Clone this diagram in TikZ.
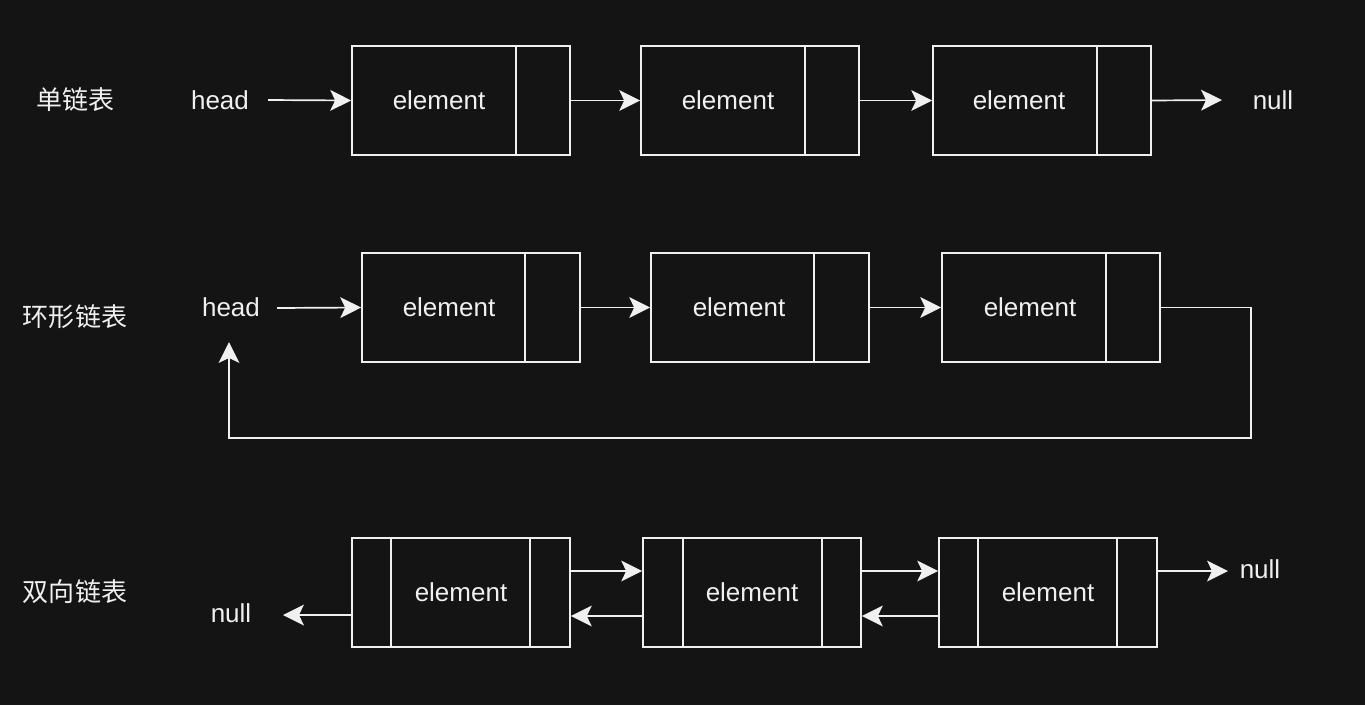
\documentclass[tikz,border=0pt]{standalone}
\usepackage{fontspec}
\setmainfont{Liberation Sans}
\newfontfamily\cjk{Noto Sans CJK SC}
\usetikzlibrary{arrows.meta}
\definecolor{bg}{HTML}{141414}
\definecolor{fg}{HTML}{F0F0F0}
\begin{document}
\begin{tikzpicture}[x=1pt,y=-1pt,
  box/.style={draw=fg,line width=1.7pt,rectangle,minimum width=218pt,minimum height=109pt,inner sep=0pt},
  lbl/.style={text=fg,font=\fontsize{26}{30}\selectfont,inner sep=0pt},
  cn/.style={text=fg,font=\cjk\fontsize{26}{30}\selectfont,inner sep=0pt},
  conn/.style={draw=fg,line width=1.7pt,-{Stealth[length=21pt,width=21pt,inset=5pt,line width=0pt]}},
  plain/.style={draw=fg,line width=1.7pt}]
\fill[bg] (0,0) rectangle (1365,705);
\useasboundingbox (0,0) rectangle (1365,705);

% row labels
\node[cn] (t1) at (75,100) {单链表};
\node[cn] (t2) at (75,317) {环形链表};
\node[cn] (t3) at (75,592) {双向链表};

% ---------- row 1 ----------
\node[lbl] (h1) at (220,100) {head};
\node[box] (a1) at (461,100.5) {};
\node[box] (a2) at (750,100.5) {};
\node[box] (a3) at (1042,100.5) {};
\foreach \d in {516,805,1097}{
  \draw[plain] (\d,46) -- (\d,155);
}
\node[lbl] at (439,100) {element};
\node[lbl] at (728,100) {element};
\node[lbl] at (1019,100) {element};
\node[lbl] (n1) at (1273,100) {null};
\coordinate (h1e) at (268,100);
\coordinate (n1w) at (1222,100);
\draw[conn] (h1e) -- (a1.west);
\draw[conn] (a1.east) -- (a2.west);
\draw[conn] (a2.east) -- (a3.west);
\draw[conn] (a3.east) -- (n1w);

% ---------- row 2 ----------
\node[lbl] (h2) at (231,307) {head};
\node[box] (b1) at (471,307.5) {};
\node[box] (b2) at (760,307.5) {};
\node[box] (b3) at (1051,307.5) {};
\foreach \d in {525,814,1106}{
  \draw[plain] (\d,253) -- (\d,362);
}
\node[lbl] at (449,307) {element};
\node[lbl] at (739,307) {element};
\node[lbl] at (1030,307) {element};
\coordinate (h2e) at (277,308);
\coordinate (h2s) at (229,342);
\draw[conn] (h2e) -- (b1.west);
\draw[conn] (b1.east) -- (b2.west);
\draw[conn] (b2.east) -- (b3.west);
\draw[conn] (b3.east) -- (1251,307.5) -- (1251,438) -- (229,438) -- (h2s);

% ---------- row 3 ----------
\node[box] (c1) at (461,592.5) {};
\node[box] (c2) at (752,592.5) {};
\node[box] (c3) at (1048,592.5) {};
\foreach \d in {391,530,683,822,978,1117}{
  \draw[plain] (\d,538) -- (\d,647);
}
\node[lbl] at (461,592) {element};
\node[lbl] at (752,592) {element};
\node[lbl] at (1048,592) {element};
\node[lbl] (n2) at (231,613) {null};
\node[lbl] (n3) at (1260,569) {null};
\coordinate (n2e) at (283,615);
\coordinate (n3w) at (1228,571);
\draw[conn] (c1.east |- 0,571) -- (c2.west |- 0,571);
\draw[conn] (c2.east |- 0,571) -- (c3.west |- 0,571);
\draw[conn] (c2.west |- 0,616) -- (c1.east |- 0,616);
\draw[conn] (c3.west |- 0,616) -- (c2.east |- 0,616);
\draw[conn] (c1.west |- 0,615) -- (n2e);
\draw[conn] (c3.east |- 0,571) -- (n3w);
\end{tikzpicture}
\end{document}
